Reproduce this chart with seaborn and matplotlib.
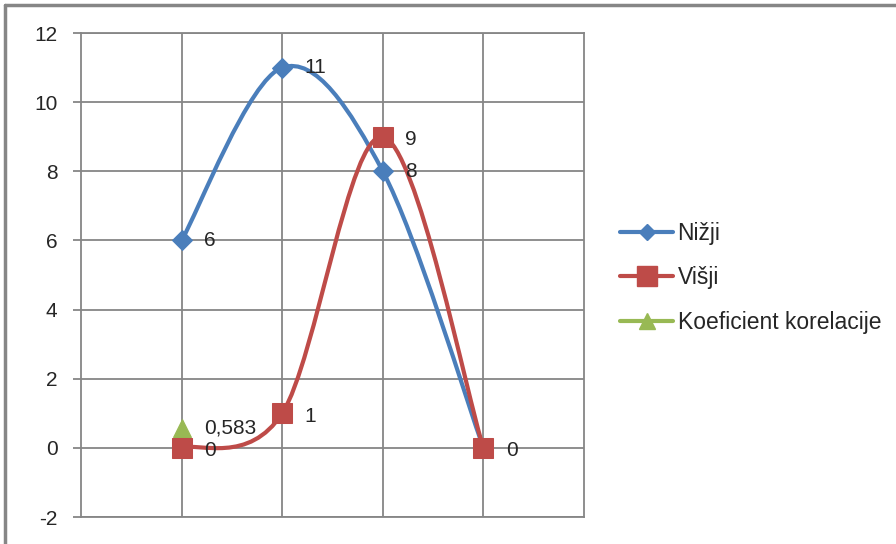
import numpy as np
import pandas as pd
import seaborn as sns
import matplotlib.pyplot as plt
from matplotlib.path import Path
from matplotlib.patches import PathPatch
from matplotlib.lines import Line2D

# data
positions = [1, 2, 3, 4]
nizji = [6, 11, 8, 0]
nizji_labels = ["6", "11", "8", ""]   # last label hidden under the red one
visji = [0, 1, 9, 0]
visji_labels = ["0", "1", "9", "0"]
koef_pos = [1]
koef = [0.583]
koef_labels = ["0,583"]

BLUE = "#4A7EBB"
RED = "#BE4B48"
GREEN = "#98B954"
GRID = "#868686"

sns.set_style("white")
plt.rcParams["font.family"] = ["Liberation Sans", "DejaVu Sans"]
plt.rcParams["axes.unicode_minus"] = False

fig = plt.figure(figsize=(8.96, 5.44), dpi=100)
ax = fig.add_axes([0.0904, 0.0496, 0.5614, 0.8897])


def smooth_path(xs, ys):
    # Excel-like smoothed line: cubic bezier through the points
    pts = np.column_stack([xs, ys]).astype(float)
    n = len(pts)
    verts = [pts[0]]
    codes = [Path.MOVETO]
    for i in range(n - 1):
        p0 = pts[i - 1] if i > 0 else pts[i]
        p1 = pts[i]
        p2 = pts[i + 1]
        p3 = pts[i + 2] if i + 2 < n else pts[i + 1]
        c1 = p1 + (p2 - p0) / 6.0
        c2 = p2 - (p3 - p1) / 6.0
        verts += [c1, c2, p2]
        codes += [Path.CURVE4] * 3
    return Path(verts, codes)


for ys, col in [(nizji, BLUE), (visji, RED)]:
    ax.add_patch(PathPatch(smooth_path(positions, ys), fill=False,
                           edgecolor=col, lw=3.0, capstyle="round", zorder=3))

df_n = pd.DataFrame({"x": positions, "y": nizji})
df_v = pd.DataFrame({"x": positions, "y": visji})
df_k = pd.DataFrame({"x": koef_pos, "y": koef})
sns.lineplot(data=df_n, x="x", y="y", marker="D", markersize=10.5, linestyle="",
             color=BLUE, markeredgecolor=BLUE, ax=ax, zorder=4)
sns.lineplot(data=df_v, x="x", y="y", marker="s", markersize=14, linestyle="",
             color=RED, markeredgecolor=RED, ax=ax, zorder=5)
sns.lineplot(data=df_k, x="x", y="y", marker="^", markersize=13, linestyle="",
             color=GREEN, markeredgecolor=GREEN, ax=ax, zorder=4)

# data labels
for x, y, t in zip(positions, nizji, nizji_labels):
    ax.annotate(t, (x, y), xytext=(16, 0), textcoords="offset points",
                ha="left", va="center", fontsize=15)
for x, y, t in zip(positions, visji, visji_labels):
    ax.annotate(t, (x, y), xytext=(16, -2), textcoords="offset points",
                ha="left", va="center", fontsize=15)
for x, y, t in zip(koef_pos, koef, koef_labels):
    ax.annotate(t, (x, y), xytext=(16, 0), textcoords="offset points",
                ha="left", va="center", fontsize=15)

ax.set_xlim(0, 5)
ax.set_ylim(-2, 12)
ax.set_yticks(range(-2, 13, 2))
ax.set_xticks([1, 2, 3, 4])
ax.set_xticklabels([])
ax.set_xlabel("")
ax.set_ylabel("")
ax.grid(True, color=GRID, lw=1.3)
ax.set_axisbelow(True)
for s in ax.spines.values():
    s.set_color(GRID)
    s.set_linewidth(1.3)
ax.tick_params(axis="y", length=6, width=1.3, color=GRID, pad=11,
               labelsize=15, left=True)
ax.tick_params(axis="x", length=0)

handles = [
    Line2D([], [], color=BLUE, lw=3.0, marker="D", markersize=8),
    Line2D([], [], color=RED, lw=3.0, marker="s", markersize=14),
    Line2D([], [], color=GREEN, lw=3.0, marker="^", markersize=11),
]
fig.legend(handles, ["Nižji", "Višji", "Koeficient korelacije"],
           loc="center left", bbox_to_anchor=(0.682, 0.489), frameon=False,
           fontsize=16.5, handlelength=2.3, handletextpad=0.2, labelspacing=0.92,
           borderaxespad=0)

# outer frame (left and top)
fig.add_artist(Line2D([0.0055, 0.0055], [0, 0.99], color=GRID, lw=2.5,
                      transform=fig.transFigure))
fig.add_artist(Line2D([0.0055, 1.0], [0.99, 0.99], color=GRID, lw=2.5,
                      transform=fig.transFigure))

fig.savefig("out.png", dpi=100)
